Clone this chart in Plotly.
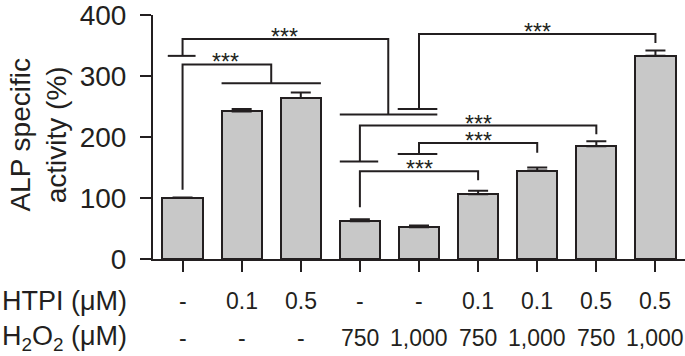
import plotly.graph_objects as go

# ---- data ----
htpi_labels = ["-", "0.1", "0.5", "-", "-", "0.1", "0.1", "0.5", "0.5"]
h2o2_labels = ["-", "-", "-", "750", "1,000", "750", "1,000", "750", "1,000"]
alp_values = [100, 242, 264, 62, 52, 106, 145, 185, 333]
alp_errors = [1, 4, 9, 3, 3, 6, 5, 8, 9]
y_ticks = [0, 100, 200, 300, 400]
sig_label = "***"

DARK = "#231f20"
FONT = "Liberation Sans, Arial, Helvetica, sans-serif"
xs = list(range(len(alp_values)))

fig = go.Figure()
fig.add_trace(go.Bar(
    x=xs, y=alp_values, width=0.68,
    marker=dict(color="#c8c8c8", line=dict(color=DARK, width=2)),
    error_y=dict(type="data", symmetric=False, array=alp_errors,
                 arrayminus=[0] * len(alp_errors),
                 color=DARK, thickness=2, width=10),
    showlegend=False,
))

# ---- significance brackets (polylines in data coords) ----
brackets = [
    dict(paths=[[(0, 113.7), (0, 319), (1.5, 319), (1.5, 288)],
                [(0.66, 288), (2.34, 288)]],
         star=(0.72, 331)),
    dict(paths=[[(-0.25, 333), (0.22, 333)],
                [(0, 333), (0, 360.5), (3.48, 360.5), (3.48, 237)],
                [(2.66, 237), (4.31, 237)]],
         star=(1.73, 372)),
    dict(paths=[[(3.64, 246), (4.31, 246)],
                [(4, 246), (4, 369), (8, 369), (8, 354)]],
         star=(6, 380)),
    dict(paths=[[(2.66, 160), (3.31, 160)],
                [(3, 160), (3, 219), (7, 219), (7, 204.5)]],
         star=(5, 230)),
    dict(paths=[[(3.64, 172), (4.31, 172)],
                [(4, 172), (4, 190), (6, 190), (6, 174)]],
         star=(5, 202)),
    dict(paths=[[(3, 84.7), (3, 144), (5, 144), (5, 129)]],
         star=(4, 156)),
]

shapes = []
annotations = []
for b in brackets:
    for pts in b["paths"]:
        d = "M " + " L ".join(f"{px},{py}" for px, py in pts)
        shapes.append(dict(type="path", path=d, xref="x", yref="y",
                           line=dict(color=DARK, width=2), layer="above"))
    sx, sy = b["star"]
    annotations.append(dict(x=sx, y=sy, xref="x", yref="y", text=sig_label,
                            showarrow=False, yanchor="middle", yshift=-5,
                            font=dict(family=FONT, size=23, color=DARK)))

# ---- condition table under the axis ----
row1_y = -0.173
row2_y = -0.323
for i, (a, b) in enumerate(zip(htpi_labels, h2o2_labels)):
    annotations.append(dict(x=i, y=row1_y, xref="x", yref="paper", text=a,
                            showarrow=False, yanchor="middle",
                            font=dict(family=FONT, size=23, color=DARK)))
    annotations.append(dict(x=i, y=row2_y, xref="x", yref="paper", text=b,
                            showarrow=False, yanchor="middle",
                            font=dict(family=FONT, size=23, color=DARK)))
annotations.append(dict(x=-0.2876, y=row1_y, xref="paper", yref="paper",
                        text="HTPI (μM)", showarrow=False, xanchor="left",
                        yanchor="middle",
                        font=dict(family=FONT, size=27, color=DARK)))
annotations.append(dict(x=-0.2876, y=row2_y, xref="paper", yref="paper",
                        text="H<sub>2</sub>O<sub>2</sub> (μM)", showarrow=False,
                        xanchor="left", yanchor="middle",
                        font=dict(family=FONT, size=27, color=DARK)))
annotations.append(dict(x=-0.217, y=0.508, xref="paper", yref="paper",
                        text="ALP specific<br>activity (%)", showarrow=False,
                        textangle=-90, xanchor="center", yanchor="middle",
                        font=dict(family=FONT, size=28, color=DARK)))

fig.update_layout(
    width=685, height=356,
    margin=dict(l=153, r=0, t=11, b=97),
    paper_bgcolor="white", plot_bgcolor="white",
    bargap=0,
    shapes=shapes, annotations=annotations,
    xaxis=dict(range=[-0.5, 8.5], tickvals=xs, showticklabels=False,
               ticks="outside", ticklen=11, tickwidth=2, tickcolor=DARK,
               showline=True, linewidth=2, linecolor=DARK,
               showgrid=False, zeroline=False, fixedrange=True),
    yaxis=dict(range=[0, 400], tickvals=y_ticks, ticks="outside",
               ticklen=11, tickwidth=2, tickcolor=DARK,
               showline=True, linewidth=2, linecolor=DARK,
               showgrid=False, zeroline=False, ticklabelstandoff=8,
               ticklabeloverflow="allow",
               tickfont=dict(family=FONT, size=28, color=DARK),
               fixedrange=True),
    font=dict(family=FONT, color=DARK),
)

fig.write_html(
    "out.html",
    config={"displayModeBar": False},
    post_script="document.body.style.margin='0';document.body.style.overflow='hidden';",
)
